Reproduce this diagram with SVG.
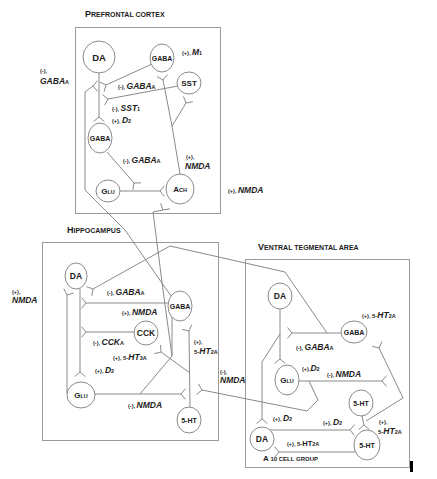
<svg xmlns="http://www.w3.org/2000/svg" width="437" height="479" viewBox="0 0 437 479">
<style>
text{font-family:"Liberation Sans",Arial,sans-serif;font-weight:bold;fill:#1c1c1c}
.box{fill:none;stroke:#9a9a9a;stroke-width:1}
.n ellipse{fill:#fff;stroke:#8a8a8a;stroke-width:1}
.nl{text-anchor:middle}
#connectors path{fill:none;stroke:#8a8a8a;stroke-width:1}
.s{font-size:5.5px;font-style:normal}
.r{font-size:8.5px;font-style:italic}
.t{font-size:7px}
.T{font-size:9px}
</style>
<rect x="0" y="0" width="437" height="479" fill="#fff"/>
<g id="regions">
<rect class="box" x="75.5" y="27.5" width="145" height="186"/>
<rect class="box" x="42.5" y="242.5" width="176" height="198"/>
<rect class="box" x="245.5" y="259.5" width="164" height="208"/>
<rect x="410" y="461" width="3" height="11" fill="#000"/>
<text x="85" y="17"><tspan class="T">P</tspan><tspan class="t">REFRONTAL CORTEX</tspan></text>
<text x="67" y="233"><tspan class="T">H</tspan><tspan class="t">IPPOCAMPUS</tspan></text>
<text x="258" y="250"><tspan class="T">V</tspan><tspan class="t">ENTRAL TEGMENTAL AREA</tspan></text>
<text x="263" y="461"><tspan font-size="8px">A</tspan><tspan font-size="6px"> 10 CELL GROUP</tspan></text>
</g>
<g id="connectors">
<path d="M152,64 L106,85 M99.7,82 L106,85 L104.1,91.7"/>
<path d="M178,86 L108,99 M102.6,94.6 L108,99 L104.6,105.1"/>
<path d="M99,73 L99,117 M93.6,121.5 L99,117 L104.4,121.5"/>
<path d="M107,152 L134,183 M132.9,189.9 L134,183 L141,182.9"/>
<path d="M120,191 L160,191 M164.5,185.6 L160,191 L164.5,196.4"/>
<path d="M180,174 L172,126 L163,80 M156.9,76.5 L163,80 L167.5,74.6 M172,126 L186,103 M183.5,96.4 L186,103 L192.9,101.7"/>
<path d="M140,394 L172,356 L163,290 L153,212 L163,210 M160.6,203.4 L163,210 L169.9,208.8 M172,317 L172,356"/>
<path d="M171,296 L125,230 L85,190 L85,92 L93,86 M97.5,80.6 L93,86 L97.5,91.4"/>
<path d="M327,333 L285,272 L170,246 L93,289 M86.4,286.6 L93,289 L91.8,295.9"/>
<path d="M67,393 L67,295 M63.9,288.7 L67,295 L73.7,293"/>
<path d="M80,289 L80,372 M74.6,376.5 L80,372 L85.4,376.5"/>
<path d="M168,303 L86,303 M81.5,297.6 L86,303 L81.5,308.4"/>
<path d="M134,332 L86,332 M81.5,326.6 L86,332 L81.5,337.4"/>
<path d="M190,407 L189,331 M182.2,329.4 L189,331 L191.8,324.6"/>
<path d="M190,373 L161,352 M154.2,353.7 L161,352 L160.5,345"/>
<path d="M95,394 L181,394 M185.5,388.6 L181,394 L185.5,399.4"/>
<path d="M309,381 L318,400 L307,411 L202,390 M198.6,383.9 L202,390 L196.5,394.4"/>
<path d="M280,309 L280,359 M274.6,363.5 L280,359 L285.4,363.5"/>
<path d="M280,334 L262,362 L262,419 M256.6,423.5 L262,419 L267.4,423.5"/>
<path d="M341,333 L292,333 M287.5,327.6 L292,333 L287.5,338.4"/>
<path d="M366,421 L403,398 L379,348 M372.2,346.3 L379,348 L381.9,341.6"/>
<path d="M299,381 L382,381 M386.5,375.6 L382,381 L386.5,386.4"/>
<path d="M362,416 L364,425 M358.6,429.5 L364,425 L369.4,429.5"/>
<path d="M270,430 L350,430 M354.5,424.6 L350,430 L354.5,435.4"/>
<path d="M356,452 L279,452 M274.5,446.6 L279,452 L274.5,457.4"/>
</g>
<g id="pfc-da" class="n"><ellipse cx="99" cy="57" rx="16" ry="16"/><text class="nl" x="99" y="61" font-size="9.5">DA</text></g>
<g id="pfc-gaba1" class="n"><ellipse cx="162" cy="58" rx="12" ry="14"/><text class="nl" x="162" y="61" font-size="7">GABA</text></g>
<g id="pfc-sst" class="n"><ellipse cx="189" cy="83" rx="12" ry="11"/><text class="nl" x="189" y="86" font-size="8">SST</text></g>
<g id="pfc-gaba2" class="n"><ellipse cx="100" cy="138" rx="12" ry="15"/><text class="nl" x="100" y="141" font-size="7">GABA</text></g>
<g id="pfc-glu" class="n"><ellipse cx="108" cy="191" rx="12" ry="11"/><text class="nl" x="108" y="194"><tspan font-size="8">G</tspan><tspan font-size="5.5">LU</tspan></text></g>
<g id="pfc-ach" class="n"><ellipse cx="180" cy="189" rx="14" ry="15"/><text class="nl" x="180" y="192"><tspan font-size="8">A</tspan><tspan font-size="5.5">CH</tspan></text></g>
<g id="hip-da" class="n"><ellipse cx="76" cy="276" rx="11" ry="13"/><text class="nl" x="76" y="279" font-size="8.5">DA</text></g>
<g id="hip-gaba" class="n"><ellipse cx="180" cy="306" rx="12" ry="15"/><text class="nl" x="180" y="309" font-size="7">GABA</text></g>
<g id="hip-cck" class="n"><ellipse cx="146" cy="333" rx="12" ry="12"/><text class="nl" x="146" y="336" font-size="8.5">CCK</text></g>
<g id="hip-glu" class="n"><ellipse cx="81" cy="395" rx="14" ry="13"/><text class="nl" x="81" y="398"><tspan font-size="8">G</tspan><tspan font-size="5.5">LU</tspan></text></g>
<g id="hip-5ht" class="n"><ellipse cx="189" cy="420" rx="12" ry="13"/><text class="nl" x="189" y="423" font-size="7">5-HT</text></g>
<g id="vta-da1" class="n"><ellipse cx="280" cy="296" rx="12" ry="13"/><text class="nl" x="280" y="299" font-size="8.5">DA</text></g>
<g id="vta-gaba" class="n"><ellipse cx="354" cy="332" rx="13" ry="11"/><text class="nl" x="354" y="335" font-size="7">GABA</text></g>
<g id="vta-glu" class="n"><ellipse cx="287" cy="380" rx="12" ry="15"/><text class="nl" x="287" y="383"><tspan font-size="8">G</tspan><tspan font-size="5.5">LU</tspan></text></g>
<g id="vta-5ht1" class="n"><ellipse cx="361" cy="403" rx="12" ry="13"/><text class="nl" x="361" y="406" font-size="7">5-HT</text></g>
<g id="vta-da2" class="n"><ellipse cx="262" cy="439" rx="12" ry="12"/><text class="nl" x="262" y="442" font-size="8.5">DA</text></g>
<g id="vta-5ht2" class="n"><ellipse cx="367" cy="445" rx="13" ry="15"/><text class="nl" x="367" y="448" font-size="7">5-HT</text></g>
<g id="labels">
<text x="182" y="55"><tspan class="s">(+), </tspan><tspan class="r">M</tspan><tspan class="s">1</tspan></text>
<text x="118" y="89"><tspan class="s">(-), </tspan><tspan class="r">GABA</tspan><tspan class="s">A</tspan></text>
<text x="112" y="111"><tspan class="s">(-), </tspan><tspan class="r" font-size="8">SST</tspan><tspan class="s">1</tspan></text>
<text x="112" y="123"><tspan class="s" font-size="5">(+), </tspan><tspan class="r" font-size="6.5">D</tspan><tspan class="s" font-size="4.5">2</tspan></text>
<text x="123" y="163"><tspan class="s">(-), </tspan><tspan class="r">GABA</tspan><tspan class="s">A</tspan></text>
<text x="186" y="159" class="s">(+),</text>
<text x="185" y="169" class="r">NMDA</text>
<text x="40" y="73" class="s">(-),</text>
<text x="40" y="84"><tspan class="r">GABA</tspan><tspan class="s">A</tspan></text>
<text x="228" y="193"><tspan class="s">(+), </tspan><tspan class="r">NMDA</tspan></text>
<text x="107" y="295"><tspan class="s">(-), </tspan><tspan class="r">GABA</tspan><tspan class="s">A</tspan></text>
<text x="122" y="315"><tspan class="s">(+), </tspan><tspan class="r">NMDA</tspan></text>
<text x="93" y="345"><tspan class="s">(-), </tspan><tspan class="r">CCK</tspan><tspan class="s">A</tspan></text>
<text x="113" y="360"><tspan class="s">(+), </tspan><tspan font-size="6">5-</tspan><tspan class="r">HT</tspan><tspan class="s">3A</tspan></text>
<text x="95" y="373"><tspan class="s">(+), </tspan><tspan class="r" font-size="8">D</tspan><tspan class="s">2</tspan></text>
<text x="128" y="408"><tspan class="s">(-), </tspan><tspan class="r">NMDA</tspan></text>
<text x="194" y="344" class="s">(+),</text>
<text x="194" y="354"><tspan font-size="6">5-</tspan><tspan class="r">HT</tspan><tspan class="s">2A</tspan></text>
<text x="220" y="374" class="s">(-),</text>
<text x="220" y="383" class="r" font-size="7.5">NMDA</text>
<text x="12" y="294" class="s">(+),</text>
<text x="12" y="303" class="r">NMDA</text>
<text x="362" y="318"><tspan class="s">(+), </tspan><tspan font-size="6">5-</tspan><tspan class="r">HT</tspan><tspan class="s">2A</tspan></text>
<text x="296" y="350"><tspan class="s">(-), </tspan><tspan class="r" font-size="9">GABA</tspan><tspan class="s">A</tspan></text>
<text x="302" y="371"><tspan class="s">(+),</tspan><tspan class="r" font-size="8">D</tspan><tspan class="s">2</tspan></text>
<text x="327" y="377"><tspan class="s">(-), </tspan><tspan class="r">NMDA</tspan></text>
<text x="273" y="421"><tspan class="s">(+), </tspan><tspan class="r" font-size="8">D</tspan><tspan class="s">2</tspan></text>
<text x="323" y="425"><tspan class="s">(+), </tspan><tspan class="r" font-size="8">D</tspan><tspan class="s">2</tspan></text>
<text x="379" y="424" class="s">(+),</text>
<text x="378" y="434"><tspan font-size="6">5-</tspan><tspan class="r">HT</tspan><tspan class="s">2A</tspan></text>
<text x="287" y="446"><tspan class="s">(+), </tspan><tspan font-size="6">5-</tspan><tspan font-size="7.5">HT</tspan><tspan class="s">2A</tspan></text>
</g>
</svg>
